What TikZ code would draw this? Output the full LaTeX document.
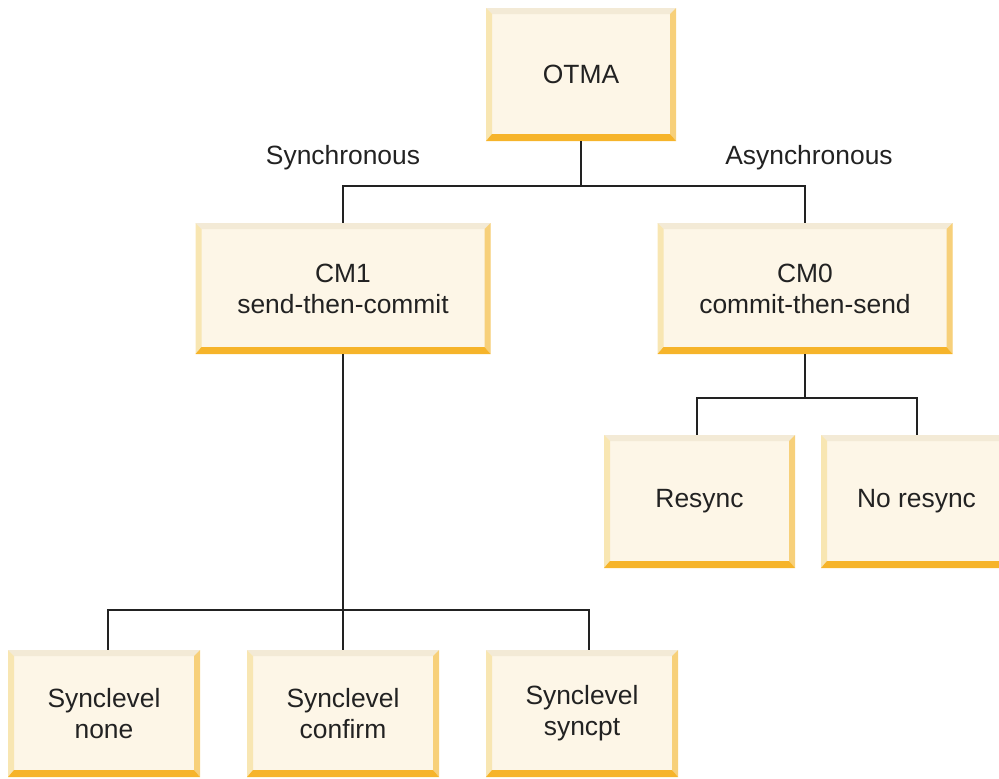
\documentclass[tikz,border=0pt]{standalone}
\usepackage{fontspec}
\setmainfont{Liberation Sans}
\definecolor{boxfill}{HTML}{FDF6E7}
\definecolor{bevtop}{HTML}{F3EAD6}
\definecolor{bevleft}{HTML}{F8E6B2}
\definecolor{bevright}{HTML}{F7D07A}
\definecolor{bevbot}{HTML}{F6B42A}
\definecolor{txt}{HTML}{222222}
\tikzset{
  bevbox/.style={rectangle, fill=boxfill, inner sep=0pt, align=center,
    text=txt, font=\fontsize{26.4pt}{31pt}\selectfont,
    path picture={
      \path (path picture bounding box.south west) coordinate (@sw)
            (path picture bounding box.north east) coordinate (@ne)
            (path picture bounding box.north west) coordinate (@nw)
            (path picture bounding box.south east) coordinate (@se);
      \fill[bevtop] (@nw) -- (@ne) -- ([shift={(-6pt,-6pt)}]@ne) -- ([shift={(6pt,-6pt)}]@nw) -- cycle;
      \fill[bevleft] (@nw) -- ([shift={(6pt,-6pt)}]@nw) -- ([shift={(6pt,7pt)}]@sw) -- (@sw) -- cycle;
      \fill[bevright] (@ne) -- ([shift={(-6pt,-6pt)}]@ne) -- ([shift={(-6pt,7pt)}]@se) -- (@se) -- cycle;
      \fill[bevbot] (@sw) -- ([shift={(6pt,7pt)}]@sw) -- ([shift={(-6pt,7pt)}]@se) -- (@se) -- cycle;
    }},
  conn/.style={draw=txt, line width=2pt},
  lbl/.style={text=txt, font=\fontsize{26.4pt}{31pt}\selectfont, inner sep=0pt}
}
\begin{document}
\begin{tikzpicture}[x=1pt,y=-1pt]
\useasboundingbox (0,0) rectangle (999,779);
\clip (0,0) rectangle (999,779);
\node[bevbox, minimum width=190pt, minimum height=133pt] (otma) at (581,74.5) {OTMA};
\node[bevbox, minimum width=295pt, minimum height=131pt] (cm1) at (343,288.5) {CM1\\send-then-commit};
\node[bevbox, minimum width=295pt, minimum height=131pt] (cm0) at (805,288.5) {CM0\\commit-then-send};
\node[bevbox, minimum width=191pt, minimum height=133pt] (resync) at (699.5,501.5) {Resync};
\node[bevbox, minimum width=191pt, minimum height=133pt] (noresync) at (916.5,501.5) {No resync};
\node[bevbox, minimum width=192pt, minimum height=127pt] (none) at (104,713.5) {Synclevel\\none};
\node[bevbox, minimum width=192pt, minimum height=127pt] (confirm) at (343,713.5) {Synclevel\\confirm};
\node[bevbox, minimum width=192pt, minimum height=127pt] (syncpt) at (582,713.5) {Synclevel\\syncpt};
\node[lbl] (sync) at (343,158) {Synchronous};
\node[lbl] (async) at (809,158) {Asynchronous};
\coordinate (j1) at (581,186);
\coordinate (j2) at (805,398);
\coordinate (j3) at (343,610);
\draw[conn] (otma.south) -- (j1);
\draw[conn] (cm1.north) |- (j1) -| (cm0.north);
\draw[conn] (cm0.south) -- (j2);
\draw[conn] ([xshift=-2.5pt]resync.north) |- (j2) -| (noresync.north);
\draw[conn] (cm1.south) -- (j3);
\draw[conn] ([xshift=4pt]none.north) |- (j3) -| ([xshift=7pt]syncpt.north);
\draw[conn] (j3) -- (confirm.north);
\end{tikzpicture}
\end{document}
